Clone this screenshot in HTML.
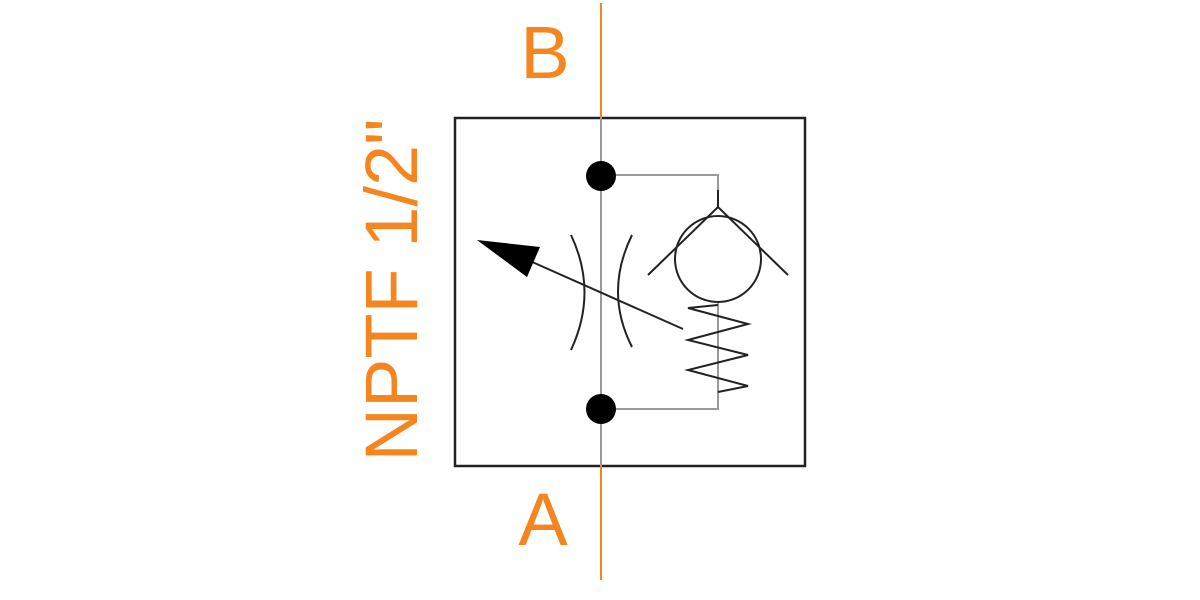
<!DOCTYPE html>
<html><head><style>
html,body{margin:0;padding:0;background:#fff;width:1200px;height:600px;overflow:hidden}
</style></head><body>
<svg width="1200" height="600" viewBox="0 0 1200 600" xmlns="http://www.w3.org/2000/svg">
<rect x="455" y="118" width="350" height="348" fill="none" stroke="#222" stroke-width="2.5"/>
<line x1="601" y1="3" x2="601" y2="118" stroke="#f5861f" stroke-width="2"/>
<line x1="601" y1="466" x2="601" y2="580" stroke="#f5861f" stroke-width="2"/>
<line x1="601" y1="118" x2="601" y2="466" stroke="#999" stroke-width="2"/>
<polyline points="601,175 718,175 718,190" fill="none" stroke="#999" stroke-width="2"/>
<polyline points="601,409 718,409 718,302" fill="none" stroke="#999" stroke-width="2"/>
<circle cx="601" cy="176" r="15" fill="#000"/>
<circle cx="601" cy="409" r="15" fill="#000"/>
<g stroke="#222" stroke-width="2" fill="none">
<line x1="718" y1="190" x2="718" y2="207"/>
<polyline points="648,275 718,207 788,275"/>
<circle cx="718" cy="259" r="43"/>
<polyline points="718,305 688,308 748,324 688,340 748,355 688,370 748,386 718,392"/>
<line x1="683" y1="329" x2="530" y2="261"/>
<path d="M571,235 Q598,292 571,350"/>
<path d="M632,235 Q604,292 632,347"/>
</g>
<polygon points="477,240 540,247 527,277" fill="#000"/>
<g fill="#f5861f" font-family="Liberation Sans, sans-serif" font-size="74">
<text x="545" y="78" text-anchor="middle">B</text>
<text x="543" y="545" text-anchor="middle">A</text>
<text transform="translate(417,290) rotate(-90)" text-anchor="middle">NPTF 1/2"</text>
</g>
</svg>
</body></html>
